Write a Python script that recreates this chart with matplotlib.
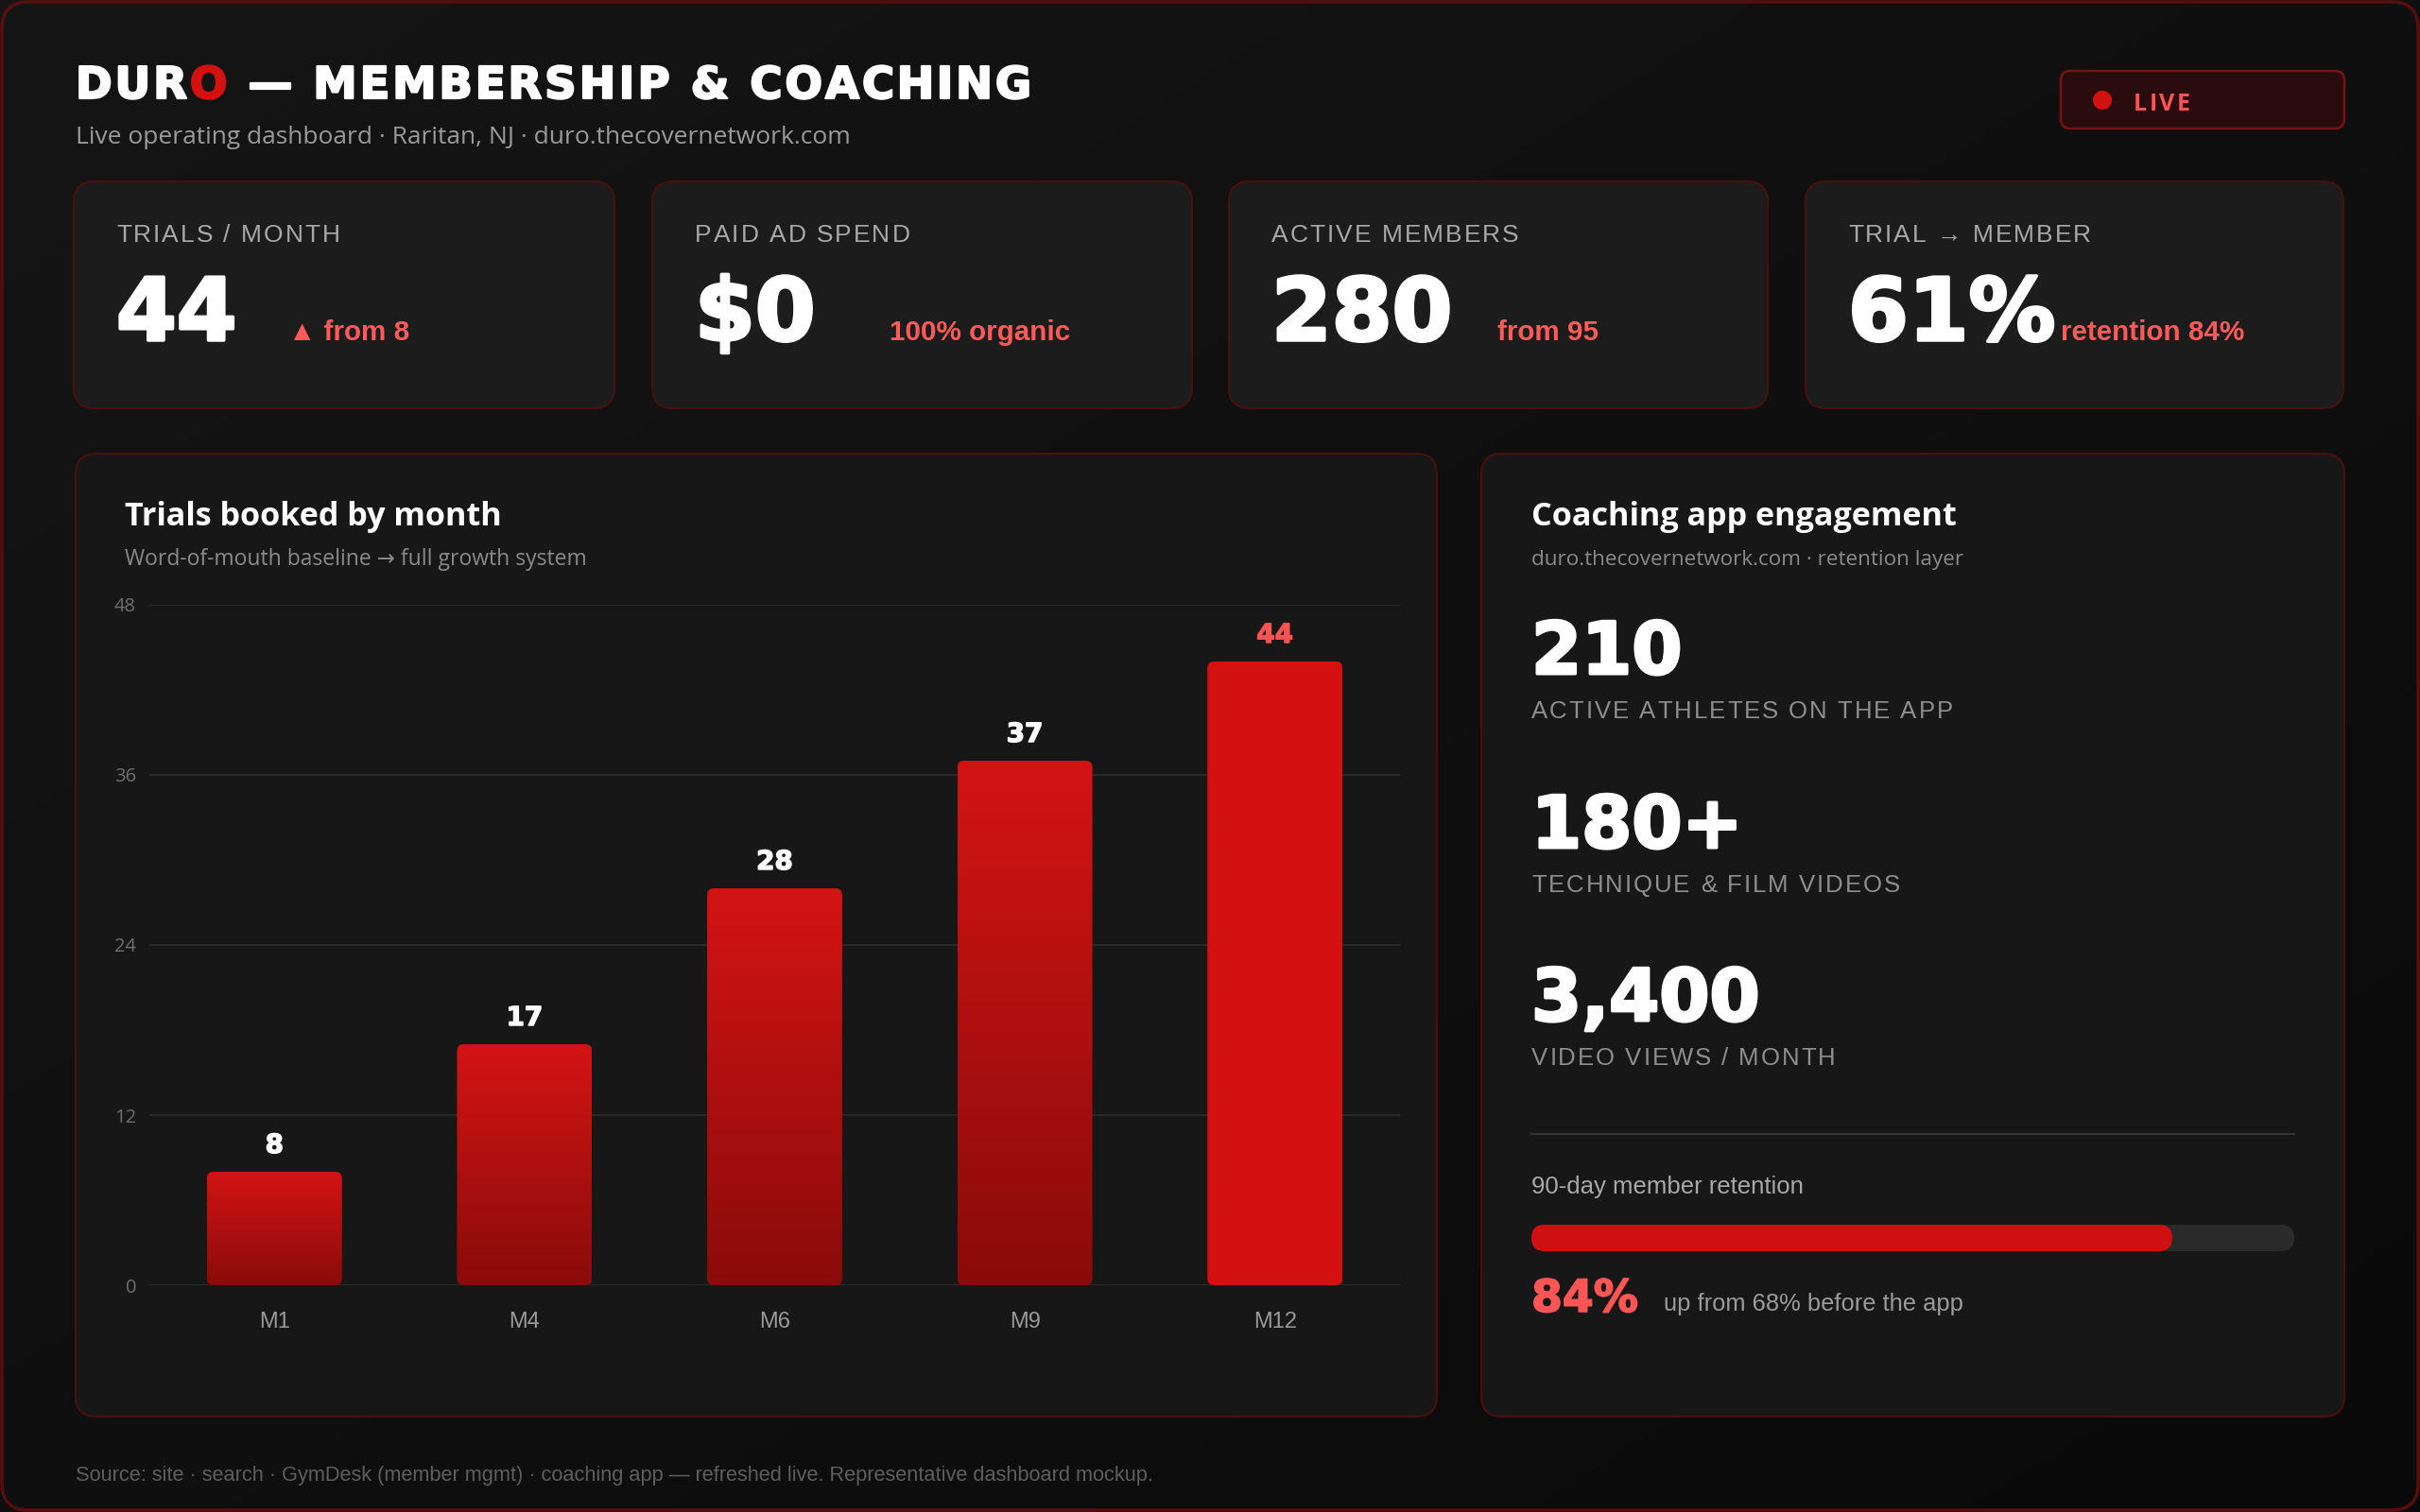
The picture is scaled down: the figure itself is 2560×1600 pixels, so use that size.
import numpy as np
import matplotlib
matplotlib.use("Agg")
import matplotlib.pyplot as plt
import matplotlib.patheffects as pe
from matplotlib.patches import FancyBboxPatch, Circle
from matplotlib.colors import LinearSegmentedColormap

# data
months = ["M1", "M4", "M6", "M9", "M12"]
trials = [8, 17, 28, 37, 44]
y_ticks = [0, 12, 24, 36, 48]

kpi_labels = ["TRIALS / MONTH", "PAID AD SPEND", "ACTIVE MEMBERS", "TRIAL \u2192 MEMBER"]
kpi_values = ["44", "$0", "280", "61%"]
kpi_notes = ["\u25b2 from 8", "100% organic", "from 95", "retention 84%"]

app_values = ["210", "180+", "3,400"]
app_labels = ["ACTIVE ATHLETES ON THE APP", "TECHNIQUE & FILM VIDEOS", "VIDEO VIEWS / MONTH"]
retention_now = 84
retention_before = 68

W, H = 2560, 1600
HEAVY = ["DejaVu Sans"]
ARIAL = ["Liberation Sans", "DejaVu Sans"]
SEGOE = ["Open Sans", "DejaVu Sans"]
RED = "#d41111"
PINK = "#ff5555"


def thick(col, lw=1.8):
    return [pe.withStroke(linewidth=lw, foreground=col)]


fig = plt.figure(figsize=(25.6, 16), dpi=100, facecolor="#0d0d0d")
bg = fig.add_axes([0, 0, 1, 1])
bg.axis("off")

# background gradient + outer frame
g = np.linspace(0, 1, 256)
gx, gy = np.meshgrid(g, g)
cmap_bg = LinearSegmentedColormap.from_list("bg", ["#151515", "#0a0a0a"])
bg.imshow((gx + gy) / 2, extent=[0, W, H, 0], cmap=cmap_bg, aspect="auto", zorder=0)
bg.set_xlim(0, W)
bg.set_ylim(H, 0)
bg.add_patch(FancyBboxPatch((2, 2), W - 4, H - 4, boxstyle="round,pad=0,rounding_size=28",
                            fc="none", ec="#5a0d0d", lw=2.5, zorder=1))

renderer = fig.canvas.get_renderer()


def rbox(x0, y0, x1, y1, r, fc, ec, lw=1.5):
    p = FancyBboxPatch((x0, y0), x1 - x0, y1 - y0, boxstyle=f"round,pad=0,rounding_size={r}",
                       fc=fc, ec=ec, lw=lw, zorder=2)
    bg.add_patch(p)
    return p


def text_w(s, **kw):
    t = bg.text(0, 0, s, **kw)
    w = t.get_window_extent(renderer).width
    t.remove()
    return w


def spaced(x, y, s, spacing, color="white", colors=None, stroke=None, **kw):
    # letter-spaced text, one glyph at a time
    for i, ch in enumerate(s):
        if ch == " ":
            w = text_w("I I", **kw) - text_w("II", **kw)
        else:
            c = colors.get(i, color) if colors else color
            t = bg.text(x, y, ch, color=c, va="baseline", zorder=5, **kw)
            if stroke:
                t.set_path_effects(thick(c, stroke))
            w = t.get_window_extent(renderer).width
        x += w + spacing
    return x


# header
spaced(80, 104, "DURO \u2014 MEMBERSHIP & COACHING", 2.95, colors={3: RED}, stroke=1.6,
       fontsize=33.5, fontweight="bold", family=HEAVY)
bg.text(80, 152, "Live operating dashboard \u00b7 Raritan, NJ \u00b7 duro.thecovernetwork.com",
        fontsize=19, family=SEGOE, color="#9a9a9a", va="baseline", zorder=5)

rbox(2180, 75, 2480, 136, 10, "#2a0c0e", "#7a1212", lw=1.8)
bg.add_patch(Circle((2224, 106), 10, fc=RED, ec="none", zorder=4))
spaced(2257, 117, "LIVE", 2.5, color=PINK, fontsize=18, fontweight="bold", family=SEGOE)

# KPI cards
card_x = [(78, 650), (690, 1261), (1300, 1870), (1910, 2479)]
note_x = [305, 941, 1584, 2180]
for (x0, x1), lab, val, note, nx in zip(card_x, kpi_labels, kpi_values, kpi_notes, note_x):
    rbox(x0, 192, x1, 432, 22, "#1c1c1c", "#4a0f0f")
    spaced(x0 + 45, 256, lab, 2, color="#a8a8a8", fontsize=19, family=ARIAL)
    bg.text(x0 + 45, 360, val, fontsize=66, fontweight="bold", family=HEAVY,
            color="white", va="baseline", zorder=5, path_effects=thick("white", 2.5))
    bg.text(nx, 360, note, fontsize=21.3, fontweight="bold", family=ARIAL,
            color="#ff5a5a", va="baseline", zorder=5)

# panels
rbox(80, 480, 1520, 1499, 22, "#171717", "#4a0f0f")
rbox(1567, 480, 2480, 1499, 22, "#171717", "#4a0f0f")

bg.text(132, 556, "Trials booked by month", fontsize=24.6, fontweight="bold", family=SEGOE,
        color="white", va="baseline", zorder=5)
bg.text(132, 598, "Word-of-mouth baseline \u2192 full growth system", fontsize=16.5, family=SEGOE,
        color="#8a8a8a", va="baseline", zorder=5)
bg.text(1620, 556, "Coaching app engagement", fontsize=24.6, fontweight="bold", family=SEGOE,
        color="white", va="baseline", zorder=5)
bg.text(1620, 598, "duro.thecovernetwork.com \u00b7 retention layer", fontsize=16.2, family=SEGOE,
        color="#8a8a8a", va="baseline", zorder=5)

# bar chart
ax_l, ax_r, ax_t, ax_b = 158, 1481, 640, 1360
ax = fig.add_axes([ax_l / W, 1 - ax_b / H, (ax_r - ax_l) / W, (ax_b - ax_t) / H])
ax.patch.set_alpha(0)
xs = np.arange(len(months))
bars = ax.bar(xs, trials, width=0.54, color="none", edgecolor="none")
ax.set_xlim(-0.5, len(months) - 0.5)
ax.set_ylim(y_ticks[0], y_ticks[-1])

px_x = (ax_r - ax_l) / len(months)
px_y = (ax_b - ax_t) / (y_ticks[-1] - y_ticks[0])
grad = np.linspace(0, 1, 256).reshape(-1, 1)
cm_bar = LinearSegmentedColormap.from_list("bar", ["#8a0b0b", "#d41414"])
cm_top = LinearSegmentedColormap.from_list("top", [RED, RED])
for i, b in enumerate(bars):
    x0, w, h = b.get_x(), b.get_width(), b.get_height()
    clip = FancyBboxPatch((x0, 0), w, h, boxstyle=f"round,pad=0,rounding_size={7 / px_x}",
                          mutation_aspect=px_x / px_y, fc="none", ec="none")
    ax.add_patch(clip)
    last = i == len(bars) - 1
    im = ax.imshow(grad, extent=[x0, x0 + w, 0, h], origin="lower", aspect="auto",
                   cmap=cm_top if last else cm_bar, zorder=2)
    im.set_clip_path(clip)
    col = "#ff5252" if last else "white"
    ax.annotate(str(trials[i]), (xs[i], h), xytext=(0, 20), textcoords="offset pixels",
                ha="center", va="baseline", fontsize=20, fontweight="bold", family=HEAVY,
                color=col, path_effects=thick(col, 1.0))

ax.set_xlim(-0.5, len(months) - 0.5)
ax.set_ylim(y_ticks[0], y_ticks[-1])
ax.set_yticks(y_ticks)
ax.set_xticks(xs, months)
ax.grid(axis="y", color="#2a2a2a", lw=1.5)
ax.set_axisbelow(True)
for s in ax.spines.values():
    s.set_visible(False)
ax.tick_params(axis="y", length=0, pad=10, labelcolor="#6e6e6e", labelsize=14.5)
ax.tick_params(axis="x", length=0, pad=20, labelcolor="#9a9a9a", labelsize=17)
for t in ax.get_yticklabels():
    t.set_fontfamily(SEGOE)
for t in ax.get_xticklabels():
    t.set_fontfamily(ARIAL)

# app engagement stats
for val, lab, yv, yl in zip(app_values, app_labels, [713, 897, 1080], [760, 944, 1127]):
    bg.text(1620, yv, val, fontsize=55, fontweight="bold", family=HEAVY, color="white",
            va="baseline", zorder=5, path_effects=thick("white", 2.2))
    spaced(1620, yl, lab, 2.0, color="#8e8e8e", fontsize=18.5, family=ARIAL)

bg.plot([1620, 2427], [1200, 1200], color="#333333", lw=1.5, zorder=3)
bg.text(1620, 1263, "90-day member retention", fontsize=18.5, family=ARIAL, color="#a8a8a8",
        va="baseline", zorder=5)

# retention progress bar
pb_l, pb_r, pb_t, pb_b = 1620, 2427, 1296, 1324
pax = fig.add_axes([pb_l / W, 1 - pb_b / H, (pb_r - pb_l) / W, (pb_b - pb_t) / H])
pax.axis("off")
pax.set_xlim(0, 100)
pax.set_ylim(0, 1)
ppx = (pb_r - pb_l) / 100
ppy = pb_b - pb_t
for width, col in [(100, "#2a2a2a"), (retention_now, "#d01010")]:
    pax.add_patch(FancyBboxPatch((0, 0), width, 1, boxstyle=f"round,pad=0,rounding_size={14 / ppx}",
                                 mutation_aspect=ppx / ppy, fc=col, ec="none"))

bg.text(1620, 1388, f"{retention_now}%", fontsize=34, fontweight="bold", family=HEAVY,
        color=PINK, va="baseline", zorder=5, path_effects=thick(PINK, 1.2))
bg.text(1760, 1387, f"up from {retention_before}% before the app", fontsize=18.4, family=ARIAL,
        color="#9a9a9a", va="baseline", zorder=5)

# footer
bg.text(80, 1567, "Source: site \u00b7 search \u00b7 GymDesk (member mgmt) \u00b7 coaching app \u2014 "
        "refreshed live. Representative dashboard mockup.", fontsize=15.7, family=ARIAL,
        color="#5e5e5e", va="baseline", zorder=5)

fig.savefig("out.png", dpi=100, facecolor=fig.get_facecolor())
